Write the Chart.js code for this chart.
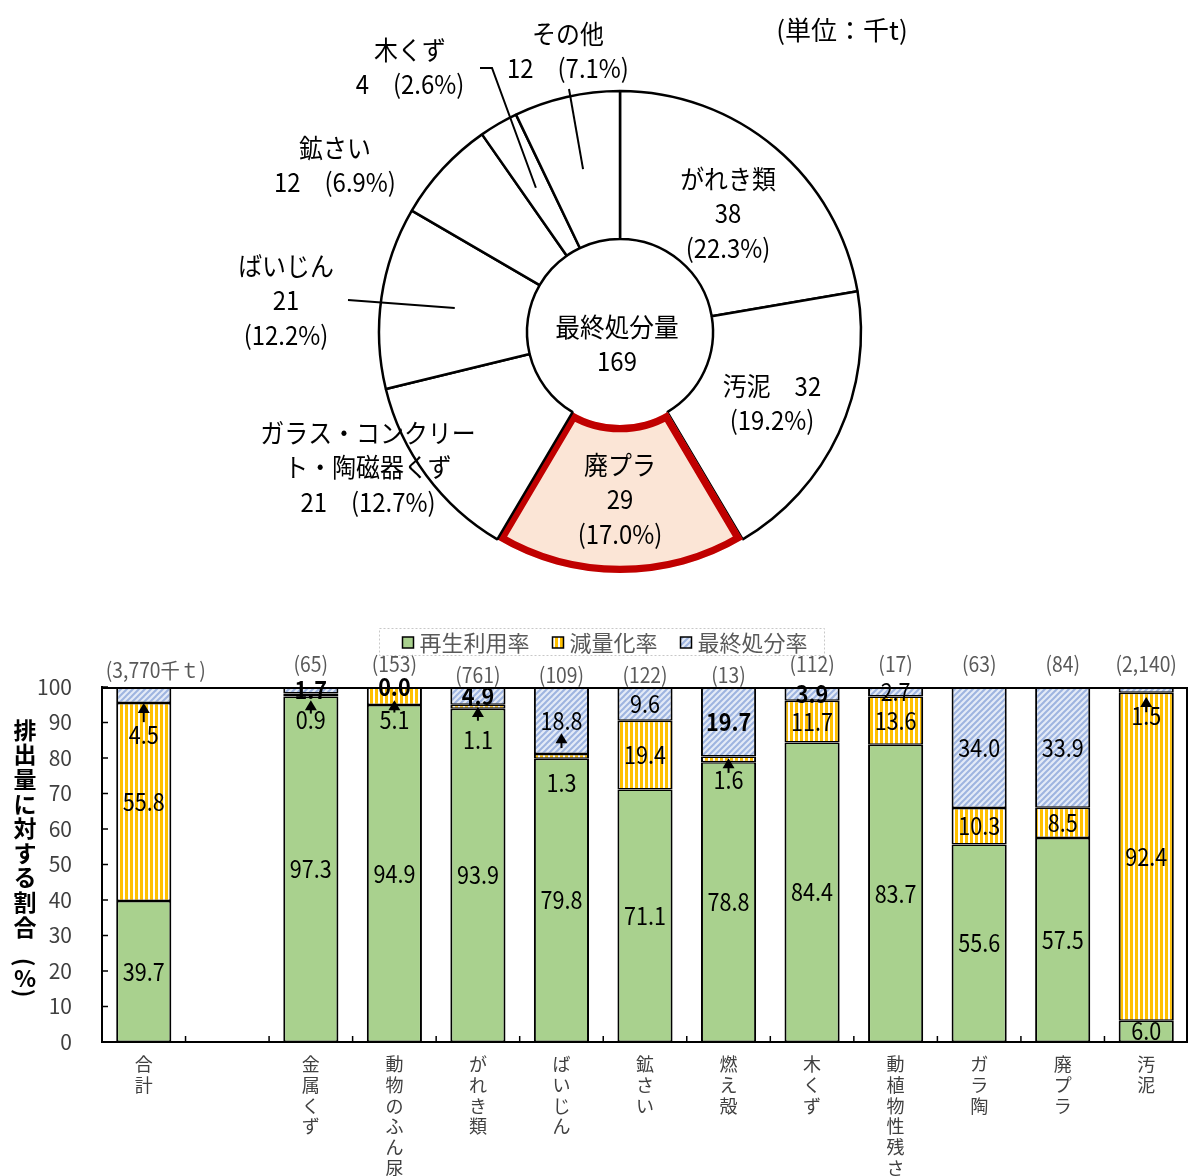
<!DOCTYPE html>
<html lang="ja">
<head>
<meta charset="utf-8">
<script src="https://cdn.jsdelivr.net/npm/chart.js@4.4.1/dist/chart.umd.min.js"></script>
<style>
  html, body { margin: 0; padding: 0; background: #fff; }
  #wrap { position: relative; width: 1188px; height: 1176px; }
  #pieBox { position: absolute; left: 0; top: 0; width: 1188px; height: 600px; }
  #barBox { position: absolute; left: 0; top: 600px; width: 1188px; height: 576px; }
</style>
</head>
<body>
<div id="wrap">
  <div id="pieBox"><canvas id="pieChart"></canvas></div>
  <div id="barBox"><canvas id="barChart"></canvas></div>
</div>
<script>
// 最終処分量の内訳（千t）
const pieLabels = ['がれき類', '汚泥', '廃プラ', 'ガラス・コンクリート・陶磁器くず', 'ばいじん', '鉱さい', '木くず', 'その他'];
const pieValues = [38, 32, 29, 21, 21, 12, 4, 12];
const pieShares = [22.3, 19.2, 17.0, 12.7, 12.2, 6.9, 2.6, 7.1];
const pieTotal = 169;

// 種類別の処理状況（%）
const barCategories = ['合計', '', '金属くず', '動物のふん尿', 'がれき類', 'ばいじん', '鉱さい', '燃え殻', '木くず', '動植物性残さ', 'ガラ陶', '廃プラ', '汚泥'];
const barTotals = ['(3,770千ｔ)', '', '(65)', '(153)', '(761)', '(109)', '(122)', '(13)', '(112)', '(17)', '(63)', '(84)', '(2,140)'];
const recycleRate = [39.7, null, 97.3, 94.9, 93.9, 79.8, 71.1, 78.8, 84.4, 83.7, 55.6, 57.5, 6.0];
const reductionRate = [55.8, null, 0.9, 5.1, 1.1, 1.3, 19.4, 1.6, 11.7, 13.6, 10.3, 8.5, 92.4];
const finalRate = [4.5, null, 1.7, 0.0, 4.9, 18.8, 9.6, 19.7, 3.9, 2.7, 34.0, 33.9, 1.5];
const yTicks = [0, 10, 20, 30, 40, 50, 60, 70, 80, 90, 100];

// label placement (layout only)
const pieLabelLayout = [
  { fmt: 'stack', dx: 108, dy: -153 },
  { fmt: 'nameVal', dx: 152, dy: 54 },
  { fmt: 'stack', dx: 0, dy: 133 },
  { fmt: 'wrap', cut: 9, dx: -252, dy: 101 },
  { fmt: 'stack', dx: -334, dy: -66, leader: [[-272, -32]] },
  { fmt: 'pair', dx: -285, dy: -184 },
  { fmt: 'pair', dx: -210, dy: -282, leader: [[-140, -264], [-128, -264]] },
  { fmt: 'pair', dx: -52, dy: -298, leader: [[-51, -243]] }
];
const labelMoves = [
  { bar: 0, ds: 2, at: 86.5, arrow: [90.1, 95.5] },
  { bar: 2, ds: 1, at: 90.7, arrow: [92.5, 96.3] },
  { bar: 3, ds: 1, at: 90.7, arrow: [92.8, 96.3] },
  { bar: 4, ds: 1, at: 85.1, arrow: [90.5, 94.4] },
  { bar: 5, ds: 1, at: 73.0, arrow: [82.8, 87.0] },
  { bar: 7, ds: 1, at: 73.8, arrow: [75.8, 79.9] },
  { bar: 12, ds: 2, at: 91.8, arrow: [92.9, 97.2] }
];
const boldLabels = ['2-2', '3-2', '4-2', '7-2', '8-2'];
const totalsLift = [17, 0, 23, 23, 12, 12, 12, 12, 23, 23, 23, 23, 23];

const JP = "'Noto Sans CJK JP', 'Noto Sans', sans-serif";

function stripePattern() {
  const c = document.createElement('canvas');
  c.width = 5; c.height = 5;
  const g = c.getContext('2d');
  g.fillStyle = '#fff'; g.fillRect(0, 0, 5, 5);
  g.fillStyle = '#FFC000'; g.fillRect(0, 0, 3, 5);
  return g.createPattern(c, 'repeat');
}
function hatchPattern() {
  const c = document.createElement('canvas');
  c.width = 6; c.height = 6;
  const g = c.getContext('2d');
  g.fillStyle = '#E4EBF7'; g.fillRect(0, 0, 6, 6);
  g.strokeStyle = '#9EB4E0'; g.lineWidth = 2;
  [[-6, 6, 6, -6], [0, 6, 6, 0], [0, 12, 12, 0]].forEach(p => {
    g.beginPath(); g.moveTo(p[0], p[1]); g.lineTo(p[2], p[3]); g.stroke();
  });
  return g.createPattern(c, 'repeat');
}

function narrowText(ctx, text, x, y, sx) {
  ctx.save();
  ctx.translate(x, y);
  ctx.scale(sx, 1);
  ctx.fillText(text, 0, 0);
  ctx.restore();
}

function pieLines(i) {
  const L = pieLabelLayout[i];
  const name = pieLabels[i];
  const val = String(pieValues[i]);
  const pct = '(' + pieShares[i].toFixed(1) + '%)';
  if (L.fmt === 'stack') return [name, val, pct];
  if (L.fmt === 'pair') return [name, val + '　' + pct];
  if (L.fmt === 'nameVal') return [name + '　' + val, pct];
  return [name.slice(0, L.cut), name.slice(L.cut), val + '　' + pct];
}

const pieDecor = {
  id: 'pieDecor',
  afterDraw(chart) {
    const ctx = chart.ctx;
    const arcs = chart.getDatasetMeta(0).data;
    const cx = arcs[0].x, cy = arcs[0].y;
    ctx.save();
    ctx.fillStyle = '#000';
    ctx.strokeStyle = '#000';
    ctx.lineWidth = 2;
    ctx.textAlign = 'center';
    ctx.textBaseline = 'middle';
    ctx.font = '26px ' + JP;

    arcs.forEach((arc, i) => {
      const L = pieLabelLayout[i];
      pieLines(i).forEach((t, k) => {
        narrowText(ctx, t, cx + L.dx, cy + L.dy + k * 34.5, 0.92);
      });
      if (L.leader) {
        const mid = (arc.startAngle + arc.endAngle) / 2;
        ctx.beginPath();
        ctx.moveTo(cx + L.leader[0][0], cy + L.leader[0][1]);
        L.leader.slice(1).forEach(p => ctx.lineTo(cx + p[0], cy + p[1]));
        ctx.lineTo(cx + Math.cos(mid) * 167, cy + Math.sin(mid) * 167);
        ctx.stroke();
      }
    });

    narrowText(ctx, '最終処分量', cx - 3, cy - 5, 0.95);
    narrowText(ctx, String(pieTotal), cx - 3, cy + 29, 0.92);
    narrowText(ctx, '(単位：千t)', 842, 30, 1);
    ctx.restore();
  }
};

new Chart(document.getElementById('pieChart'), {
  type: 'doughnut',
  data: {
    labels: pieLabels,
    datasets: [{
      data: pieShares,
      backgroundColor: pieLabels.map((l, i) => i === 2 ? '#FBE5D6' : '#FFFFFF'),
      borderColor: pieLabels.map((l, i) => i === 2 ? '#C00000' : '#000000'),
      borderWidth: pieLabels.map((l, i) => i === 2 ? 7 : 2.5),
      borderAlign: pieLabels.map((l, i) => i === 2 ? 'inner' : 'center')
    }]
  },
  options: {
    responsive: true,
    maintainAspectRatio: false,
    animation: false,
    radius: 241,
    cutout: '38.6%',
    layout: { padding: { left: 52, top: 64 } },
    plugins: { legend: { display: false }, tooltip: { enabled: false } }
  },
  plugins: [pieDecor]
});

const barDecor = {
  id: 'barDecor',
  afterDatasetsDraw(chart) {
    const { ctx, chartArea: a } = chart;
    const x = chart.scales.x, y = chart.scales.y;
    const line = (x1, y1, x2, y2) => { ctx.beginPath(); ctx.moveTo(x1, y1); ctx.lineTo(x2, y2); ctx.stroke(); };
    ctx.save();

    // plot frame and inward ticks
    ctx.strokeStyle = '#000';
    ctx.lineWidth = 2;
    line(a.left, a.top + 1, a.right, a.top + 1);
    line(a.right - 1, a.top, a.right - 1, a.bottom);
    ctx.lineWidth = 1.5;
    yTicks.forEach(v => { const py = y.getPixelForValue(v); line(a.left, py, a.left + 6, py); });
    for (let k = 1; k < barCategories.length; k++) {
      const px = (x.getPixelForValue(k - 1) + x.getPixelForValue(k)) / 2;
      line(px, a.bottom, px, a.bottom - 6);
    }

    // value labels
    ctx.textAlign = 'center';
    ctx.textBaseline = 'middle';
    ctx.fillStyle = '#000';
    chart.data.datasets.forEach((ds, di) => {
      const meta = chart.getDatasetMeta(di);
      ds.data.forEach((v, i) => {
        if (v === null) return;
        const el = meta.data[i];
        const move = labelMoves.find(m => m.bar === i && m.ds === di);
        const ty = move ? y.getPixelForValue(move.at) : (el.y + el.base) / 2;
        ctx.font = (boldLabels.includes(i + '-' + di) ? 'bold ' : '') + '24px ' + JP;
        narrowText(ctx, v.toFixed(1), el.x, ty, 0.9);
        if (move) {
          const tail = y.getPixelForValue(move.arrow[0]);
          const tip = y.getPixelForValue(move.arrow[1]);
          ctx.lineWidth = 2;
          line(el.x, tail, el.x, tip + 6);
          ctx.beginPath();
          ctx.moveTo(el.x, tip);
          ctx.lineTo(el.x - 6, tip + 10);
          ctx.lineTo(el.x + 6, tip + 10);
          ctx.closePath();
          ctx.fill();
        }
      });
    });

    // totals above bars
    ctx.fillStyle = '#595959';
    ctx.font = '21px ' + JP;
    barTotals.forEach((t, i) => {
      if (!t) return;
      narrowText(ctx, t, x.getPixelForValue(i) + (i === 0 ? 12 : 0), a.top - totalsLift[i], 0.92);
    });

    // y axis title (vertical)
    ctx.fillStyle = '#000';
    ctx.font = 'bold 23px ' + JP;
    const title = '排出量に対する割合';
    for (let k = 0; k < title.length; k++) ctx.fillText(title[k], 25, 130 + k * 24.6);
    [['(', 362, 1], ['%', 378, 0], [')', 393, 1]].forEach(c => {
      ctx.save();
      ctx.translate(25, c[1]);
      if (c[2]) ctx.rotate(Math.PI / 2);
      ctx.fillText(c[0], 0, 0);
      ctx.restore();
    });

    // legend
    ctx.font = '22px ' + JP;
    const items = chart.data.datasets.map(ds => ({ label: ds.label, fill: ds.backgroundColor, w: ctx.measureText(ds.label).width }));
    const total = items.reduce((s, it) => s + 17 + it.w, 0) + 23 * (items.length - 1);
    let lx = 605 - total / 2;
    const ly = 42;
    ctx.setLineDash([2, 2]);
    ctx.strokeStyle = '#C8C8C8';
    ctx.lineWidth = 1;
    ctx.strokeRect(Math.round(lx - 23) + 0.5, 28.5, total + 40, 27);
    ctx.setLineDash([]);
    ctx.textAlign = 'left';
    items.forEach(it => {
      ctx.fillStyle = it.fill;
      ctx.fillRect(lx, ly - 5, 11, 11);
      ctx.strokeStyle = '#000';
      ctx.lineWidth = 1.5;
      ctx.strokeRect(lx, ly - 5, 11, 11);
      ctx.fillStyle = '#595959';
      ctx.fillText(it.label, lx + 17, ly + 1);
      lx += 17 + it.w + 23;
    });
    ctx.restore();
  }
};

new Chart(document.getElementById('barChart'), {
  type: 'bar',
  data: {
    labels: barCategories.map(c => c ? c.split('') : ''),
    datasets: [
      { label: '再生利用率', data: recycleRate, backgroundColor: '#A9D18E' },
      { label: '減量化率', data: reductionRate, backgroundColor: stripePattern() },
      { label: '最終処分率', data: finalRate, backgroundColor: hatchPattern() }
    ]
  },
  options: {
    responsive: true,
    maintainAspectRatio: false,
    animation: false,
    categoryPercentage: 0.66,
    barPercentage: 1,
    datasets: { bar: { borderColor: '#000', borderWidth: { left: 2, right: 2, top: 1.5, bottom: 1.5 }, borderSkipped: false } },
    layout: { padding: { top: 87, right: 0, left: 0, bottom: 0 } },
    plugins: { legend: { display: false }, tooltip: { enabled: false } },
    scales: {
      x: {
        stacked: true,
        grid: { display: false },
        border: { color: '#000', width: 2 },
        ticks: { autoSkip: false, maxRotation: 0, padding: 4, color: '#404040', font: { family: JP, size: 18, lineHeight: 1.15 } },
        afterFit: s => { s.height = 134; }
      },
      y: {
        stacked: true,
        min: 0,
        max: 100,
        grid: { display: false, drawTicks: false },
        border: { color: '#000', width: 2 },
        afterBuildTicks: s => { s.ticks = yTicks.map(v => ({ value: v })); },
        ticks: { padding: 30, color: '#404040', font: { family: JP, size: 21 } },
        afterFit: s => { s.width = 102; }
      }
    }
  },
  plugins: [barDecor]
});
</script>
</body>
</html>
